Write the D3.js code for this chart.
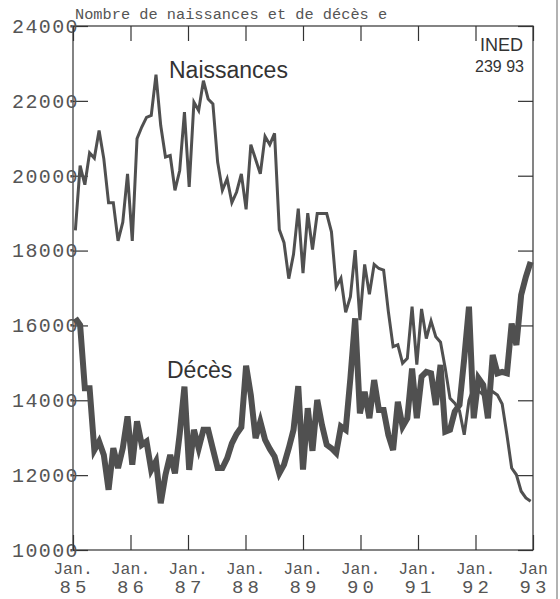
<!DOCTYPE html>
<html>
<head>
<meta charset="utf-8">
<script src="https://cdn.jsdelivr.net/npm/d3@7"></script>
<style>
  body { margin: 0; background: #fff; }
  svg { display: block; }
</style>
</head>
<body>
<script>
let width = 560;
let height = 599;

// monthly counts, Jan 85 .. Jan 93 (97 months)
const naissances = [
  18540, 20270, 19760, 20610, 20470, 21210, 20450, 19280, 19280, 18260, 18760, 20050,
  18260, 20990, 21300, 21560, 21610, 22700, 21340, 20500, 20540, 19610, 20140, 21700,
  19700, 21965, 21740, 22540, 22050, 21920, 20365, 19610, 19920, 19280, 19565, 20050,
  19100, 20830, 20440, 20050, 21050, 20830, 21130, 18560, 18210, 17250, 17900, 19120,
  17400, 19000, 18030, 18990, 18990, 18990, 18500, 17030, 17260, 16350, 16770, 18010,
  16140, 17630, 16830, 17630, 17520, 17480, 16370, 15430, 15480, 14990, 15120, 16500,
  14950, 16440, 15650, 16120, 15700, 15550, 14850, 14050, 13920, 13720, 13080, 14000,
  14350, 14250, 14150, 14200, 14230, 14140, 13900, 13080, 12190, 12010, 11570, 11390,
  11300
]
const deces = [
  16190, 16010, 14320, 14320, 12670, 12900, 12540, 11610, 12720, 12190, 12720, 13570,
  12280, 13440, 12810, 12900, 12140, 12370, 11250, 12010, 12540, 12050, 13100, 14365,
  12140, 13210, 12720, 13210, 13210, 12700, 12190, 12190, 12450, 12850, 13100, 13280,
  14920, 14140, 12990, 13430, 12945, 12700, 12500, 12050, 12280, 12720, 13210, 14380,
  12150, 13790, 12650, 14010, 13340, 12810, 12720, 12590, 13300, 13210, 14600, 16190,
  13650, 14230, 13520, 14540, 13740, 13740, 13075, 12670, 13960, 13300, 13520, 14850,
  13520, 14630, 14760, 14720, 13875, 14945, 13160, 13210, 13700, 13875, 15120, 16500,
  13520, 14590, 14410, 13520, 15210, 14720, 14760, 14720, 16050, 15475, 16810, 17300,
  17700
]
const yTicks = [10000, 12000, 14000, 16000, 18000, 20000, 22000, 24000]
const janLabels = ['Jan.', 'Jan.', 'Jan.', 'Jan.', 'Jan.', 'Jan.', 'Jan.', 'Jan.', 'Jan']
const yearLabels = ['85', '86', '87', '88', '89', '90', '91', '92', '93']

const months = d3.range(naissances.length)
const janTicks = yearLabels.map((y, i) => i * 12)

const svg = d3.select('body').append('svg')
  .attr('width', width)
  .attr('height', height)

const plotLeft = 73, plotRight = 533, plotTop = 26, plotBottom = 550

const xAxisScale = d3.scaleLinear().domain([0, 96]).range([plotLeft, plotRight])
const xScale = d3.scaleBand().domain(months).range([plotLeft, plotRight])
const yScale = d3.scaleLinear().domain([10000, 24000]).range([plotBottom, plotTop])

const ink = '#333'
const grey = '#555'
const mono = '"Liberation Mono", "Courier New", monospace'
const sans = '"Liberation Sans", Arial, sans-serif'

// edge of the scanned page
svg.append('line')
  .attr('x1', 557).attr('x2', 557).attr('y1', 0).attr('y2', height)
  .attr('stroke', '#999').attr('stroke-width', 1.5)

// frame
svg.append('rect')
  .attr('x', plotLeft).attr('y', plotTop)
  .attr('width', plotRight - plotLeft).attr('height', plotBottom - plotTop)
  .attr('fill', 'none').attr('stroke', ink).attr('stroke-width', 1.2)

const styleAxis = (g) => {
  g.select('.domain').remove()
  g.selectAll('.tick line').attr('stroke', ink).attr('stroke-width', 1.2)
}

svg.append('g')
  .attr('transform', `translate(${plotLeft},0)`)
  .call(d3.axisLeft(yScale).tickValues(yTicks).tickSize(-15).tickPadding(-6)
    .tickFormat(d3.format('d')))
  .call(styleAxis)
  .call(g => g.selectAll('.tick text')
    .attr('font-family', mono).attr('font-size', 20)
    .attr('letter-spacing', 1.4)
    .attr('fill', grey))

svg.append('g')
  .attr('transform', `translate(${plotRight},0)`)
  .call(d3.axisRight(yScale).tickValues(yTicks).tickSize(-15).tickFormat(''))
  .call(styleAxis)

svg.append('g')
  .attr('transform', `translate(0,${plotBottom})`)
  .call(d3.axisBottom(xAxisScale).tickValues(janTicks).tickSize(-15).tickFormat(''))
  .call(styleAxis)

svg.append('g')
  .attr('transform', `translate(0,${plotTop})`)
  .call(d3.axisTop(xAxisScale).tickValues(janTicks).tickSize(-15).tickFormat(''))
  .call(styleAxis)

// two-line month labels
const xLab = svg.append('g').attr('fill', grey).attr('font-family', mono)
xLab.selectAll('.jan')
  .data(janTicks)
  .enter()
  .append('text')
  .attr('class', 'jan')
  .attr('x', d => xAxisScale(d))
  .attr('y', 574)
  .attr('text-anchor', 'middle')
  .attr('font-size', 16.5)
  .text((d, i) => janLabels[i])

xLab.selectAll('.yr')
  .data(janTicks)
  .enter()
  .append('text')
  .attr('class', 'yr')
  .attr('x', d => xAxisScale(d) + 2)
  .attr('y', 593)
  .attr('text-anchor', 'middle')
  .attr('font-size', 19)
  .attr('letter-spacing', 4)
  .text((d, i) => yearLabels[i])

// series
const line = d3.line()
  .x((d, i) => xScale(i) + xScale.bandwidth() / 2)
  .y(d => yScale(d))

svg.append('path')
  .datum(naissances)
  .attr('d', line)
  .attr('fill', 'none')
  .attr('stroke', '#505050')
  .attr('stroke-width', 3)

svg.append('path')
  .datum(deces)
  .attr('d', line)
  .attr('fill', 'none')
  .attr('stroke', '#505050')
  .attr('stroke-width', 6)

// titles and labels
svg.append('text')
  .attr('x', 75).attr('y', 19)
  .attr('font-family', mono).attr('font-size', 15.3)
  .attr('fill', grey)
  .text('Nombre de naissances et de décès e')

svg.append('text')
  .attr('x', 169).attr('y', 78)
  .attr('font-family', sans).attr('font-size', 23)
  .attr('fill', ink)
  .text('Naissances')

svg.append('text')
  .attr('x', 167).attr('y', 378)
  .attr('font-family', sans).attr('font-size', 23)
  .attr('fill', ink)
  .text('Décès')

svg.append('text')
  .attr('x', 480).attr('y', 51)
  .attr('font-family', sans).attr('font-size', 18)
  .attr('fill', ink)
  .text('INED')

svg.append('text')
  .attr('x', 475).attr('y', 72)
  .attr('font-family', sans).attr('font-size', 16)
  .attr('fill', ink)
  .text('239 93')
</script>
</body>
</html>
